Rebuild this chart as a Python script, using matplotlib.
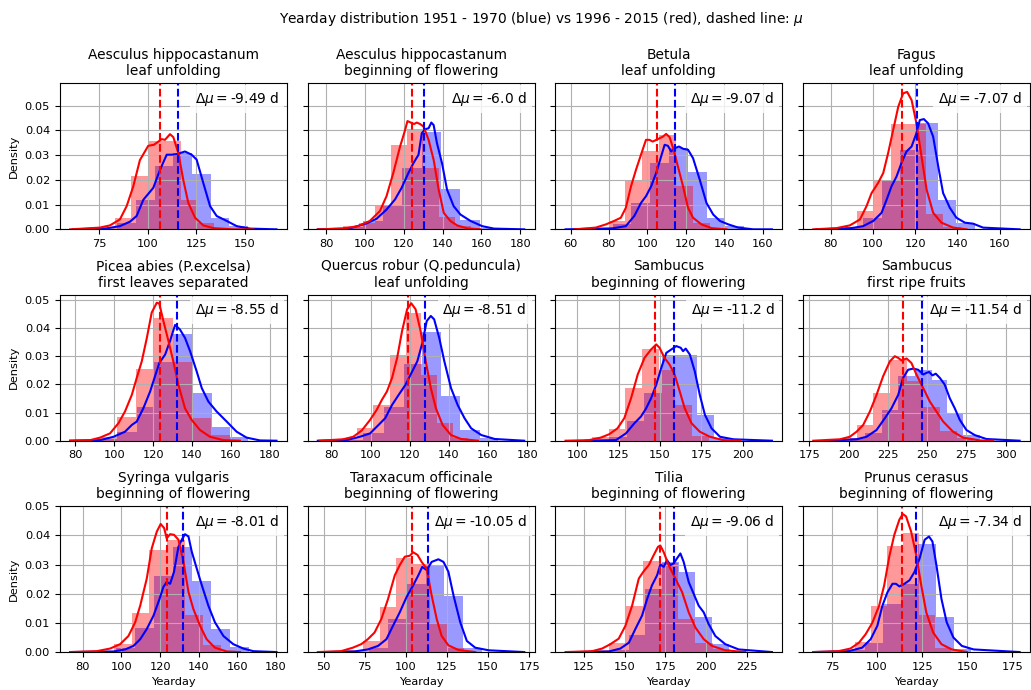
import matplotlib
matplotlib.use("Agg")
import matplotlib.pyplot as plt
import numpy as np

species = ["Aesculus hippocastanum", "Aesculus hippocastanum", "Betula", "Fagus",
           "Picea abies (P.excelsa)", "Quercus robur (Q.peduncula)", "Sambucus", "Sambucus",
           "Syringa vulgaris", "Taraxacum officinale", "Tilia", "Prunus cerasus"]
phases = ["leaf unfolding", "beginning of flowering", "leaf unfolding", "leaf unfolding",
          "first leaves separated", "leaf unfolding", "beginning of flowering", "first ripe fruits",
          "beginning of flowering", "beginning of flowering", "beginning of flowering",
          "beginning of flowering"]
delta_mu = ["-9.49", "-6.0", "-9.07", "-7.07", "-8.55", "-8.51", "-11.2", "-11.54",
            "-8.01", "-10.05", "-9.06", "-7.34"]

# means (dashed lines)
mean_red = [106.11, 124.5, 105.1, 113.9, 123.55, 119.3, 147.0, 234.9, 123.75, 103.6, 171.4, 114.0]
mean_blue = [115.6, 130.5, 114.17, 120.97, 132.1, 127.81, 158.2, 246.44, 131.76, 113.65, 180.46, 121.34]

xticks = [[75, 100, 125, 150], [80, 100, 120, 140, 160, 180], [60, 80, 100, 120, 140, 160],
          [80, 100, 120, 140, 160], [80, 100, 120, 140, 160, 180], [80, 100, 120, 140, 160, 180],
          [100, 125, 150, 175, 200], [175, 200, 225, 250, 275, 300], [80, 100, 120, 140, 160, 180],
          [50, 75, 100, 125, 150, 175], [125, 150, 175, 200, 225], [75, 100, 125, 150, 175]]
row_ymax = [0.059, 0.0518, 0.05]

# histogram bins 1996 - 2015 (red)
red_edges = [
    [74.5, 83, 91.5, 100, 108.5, 117, 125.5, 134, 142.5],
    [88.7, 97, 105.2, 113.4, 121.6, 129.9, 138.1, 146.4, 154.6],
    [71, 79.8, 88.6, 97.4, 106.2, 115, 123.8, 132.6, 141.4],
    [84.1, 92.3, 100.5, 108.7, 116.9, 125.1, 133.3, 141.5],
    [91.6, 101.3, 111, 120.7, 130.4, 140.1, 149.8, 159.5],
    [85.2, 92.9, 101.5, 109.8, 117.9, 126, 134.2, 142, 149.7],
    [108.8, 118.9, 129, 139.1, 149.2, 159.3, 169.4, 179.5],
    [194.5, 205.1, 215.7, 226.3, 236.9, 247.5, 258.1, 268.7, 279.3],
    [86.6, 95.9, 105.2, 114.5, 123.8, 133.1, 142.4, 151.7],
    [63.7, 73.9, 84.1, 94.3, 104.5, 114.7, 124.9, 135.1],
    [129.7, 140.3, 150.9, 161.5, 172.1, 182.7, 193.3, 203.9, 214.5],
    [78.8, 87.7, 96.6, 105.5, 114.4, 123.3, 132.2, 141.1],
]
red_heights = [
    [0.0006, 0.0044, 0.0217, 0.0358, 0.0358, 0.012, 0.0025, 0.0004],
    [0.0013, 0.0025, 0.010, 0.0342, 0.0406, 0.0248, 0.005, 0.0013],
    [0.0005, 0.0034, 0.0198, 0.0318, 0.0382, 0.0174, 0.0025, 0.0005],
    [0.0008, 0.0076, 0.0198, 0.0426, 0.0426, 0.0062, 0.0008],
    [0.0014, 0.0083, 0.0256, 0.0435, 0.028, 0.008, 0.002],
    [0.0011, 0.0044, 0.0127, 0.0306, 0.0455, 0.0232, 0.0062, 0.0011],
    [0.0014, 0.0042, 0.0187, 0.0324, 0.0252, 0.0127, 0.0018],
    [0.0008, 0.0054, 0.0169, 0.0288, 0.0213, 0.0121, 0.0035, 0.0008],
    [0.0005, 0.0027, 0.0133, 0.035, 0.0385, 0.0128, 0.0024],
    [0.0008, 0.0038, 0.0154, 0.0321, 0.0301, 0.0096, 0.0015],
    [0.0006, 0.003, 0.0159, 0.0312, 0.0304, 0.0115, 0.0032, 0.0009],
    [0.0005, 0.0035, 0.0159, 0.0364, 0.0408, 0.0128, 0.0015],
]

# histogram bins 1951 - 1970 (blue)
blue_edges = [
    [84.3, 93.9, 103.5, 113.1, 122.7, 132.3, 141.9, 151.5],
    [89, 99, 109.2, 119.2, 129.2, 139.2, 149.2, 159.2, 169.2],
    [81.9, 91.7, 101.5, 111.3, 121.1, 130.9, 140.7, 150.5],
    [86.6, 95.4, 104.2, 113, 121.8, 130.6, 139.4, 148.2],
    [91.9, 101.7, 111.6, 120.5, 130.4, 140.3, 150.1, 159.5, 168.9],
    [86.6, 96.4, 106.7, 117, 126.5, 135.9, 145.9, 155.7, 165.2],
    [119.2, 129.8, 140.4, 151, 161.6, 172.2, 182.8, 193.4],
    [200, 210.4, 221, 231.6, 242.2, 253.2, 262.9, 272.9, 283.5],
    [97.3, 107.1, 116.9, 126.7, 136.5, 146.3, 156.1, 165.9],
    [77.8, 89.2, 100.6, 112, 123.4, 134.8, 146.2],
    [142.4, 152.6, 162.8, 173, 183.2, 193.4, 203.6, 213.8],
    [83.5, 93.5, 103.3, 113.1, 122.9, 132.7, 142.5, 152.3],
]
blue_heights = [
    [0.0024, 0.0117, 0.0257, 0.031, 0.0225, 0.0047, 0.0013],
    [0.0008, 0.0034, 0.010, 0.0248, 0.0395, 0.0164, 0.0038, 0.0007],
    [0.002, 0.0107, 0.0268, 0.033, 0.0232, 0.0044, 0.0012],
    [0.0008, 0.0044, 0.0194, 0.0322, 0.0432, 0.0117, 0.0027],
    [0.0005, 0.003, 0.012, 0.028, 0.038, 0.017, 0.005, 0.0014],
    [0.0004, 0.0026, 0.0121, 0.0274, 0.0387, 0.0157, 0.0038, 0.0008],
    [0.0012, 0.0071, 0.0171, 0.0306, 0.0306, 0.0092, 0.0008],
    [0.0008, 0.0026, 0.011, 0.0229, 0.025, 0.0217, 0.01, 0.002],
    [0.0015, 0.0081, 0.0262, 0.036, 0.0243, 0.0078, 0.0017],
    [0.0015, 0.0115, 0.0234, 0.0298, 0.0192, 0.0015],
    [0.0008, 0.0058, 0.0217, 0.031, 0.0275, 0.0119, 0.0029],
    [0.0008, 0.0032, 0.0163, 0.0234, 0.037, 0.0121, 0.0009],
]

# kernel density curves
red_kde_x = [
    [60, 75.3, 80.5, 85.6, 89.1, 92.5, 95.9, 100.2, 103.1, 105.4, 107.1, 108.8, 111.4, 113.1, 115.7, 118.2, 120.8, 124.3, 128.5, 133.7, 144, 154.3],
    [75.7, 88.7, 96.4, 102.5, 107.7, 111.1, 114.6, 118.1, 120.7, 121.9, 123.6, 125.3, 126.7, 128.4, 130.2, 132.8, 135.4, 138, 140.6, 144, 147.5, 152.7, 159.6],
    [62, 73.1, 78.4, 82.7, 86.2, 88.8, 91.5, 94.1, 96.7, 99.3, 101.1, 102.8, 105.5, 108.1, 109.8, 111.6, 113.7, 115.9, 118.6, 121.2, 123.8, 128.2, 133.4, 141.3],
    [71.8, 82.8, 89.1, 93.9, 97, 99.4, 102.5, 104.9, 107.2, 109.6, 112, 114.3, 116.2, 118.3, 120.6, 123, 125.4, 128.5, 132.4, 138, 144.3],
    [77.4, 87.7, 92.8, 97.9, 102.2, 105.6, 109.1, 111.6, 114.2, 116.8, 119.3, 121.9, 123.2, 125.3, 127.9, 130.4, 133, 136.4, 139.8, 144.1, 149.2, 156.1, 164.6],
    [74, 86, 91.2, 95.5, 99.8, 103.2, 105.8, 108.4, 111, 113.6, 116.1, 118.7, 120.8, 123, 125.6, 128.2, 130.8, 133.4, 136.8, 141.1, 146.3, 154.9],
    [92.9, 107.1, 114.2, 119.3, 124.3, 128.4, 132.5, 136.5, 140.6, 144.6, 147.7, 149.7, 152.7, 155.8, 158.8, 161.9, 164.9, 169, 174, 180.1, 188.2, 198.4],
    [177.5, 194.5, 200.8, 205.1, 209.3, 213.6, 217.8, 222, 226.3, 229.4, 231.6, 233.7, 236.9, 240, 243.2, 247.5, 251.7, 255.9, 260.2, 266.5, 272.9, 283.5, 292],
    [73.4, 87.2, 94.1, 99.3, 103.6, 107.1, 109.7, 113.1, 115.7, 118.3, 120.3, 122.1, 123.4, 125.2, 127.2, 129.5, 132.1, 134.7, 137.2, 140.7, 144.1, 148.4, 154.5, 161.4],
    [46.5, 60.6, 67.8, 72.9, 76.9, 81, 85.1, 89.2, 93.3, 96.3, 99.4, 102.4, 104.5, 107.1, 109.6, 112.7, 115.7, 118.8, 121.8, 125.9, 132, 142.2],
    [113.8, 130.1, 136.2, 141.3, 146.4, 150.5, 154.6, 158.7, 161.7, 164.8, 167.9, 170.5, 171.9, 174, 177, 181.1, 185.2, 189.3, 193.4, 198.5, 203.6, 211.7, 224],
    [64.7, 78.7, 85.3, 90, 93.7, 97.4, 101.2, 104, 106.8, 109.6, 112.4, 114.3, 116.1, 118.9, 121.7, 124.5, 127.3, 131.1, 135.7, 141.4, 149.8],
]
red_kde_y = [
    [0, 0.0007, 0.0016, 0.004, 0.0094, 0.0174, 0.028, 0.0338, 0.0342, 0.0355, 0.0365, 0.0362, 0.0385, 0.0373, 0.0308, 0.0201, 0.0107, 0.0047, 0.0016, 0.0005, 0, 0],
    [0, 0.0003, 0.0013, 0.0034, 0.0074, 0.0134, 0.0228, 0.0335, 0.0402, 0.0438, 0.0432, 0.0426, 0.0432, 0.0426, 0.0416, 0.0362, 0.0281, 0.0161, 0.0067, 0.0034, 0.0016, 0.0004, 0],
    [0, 0.0007, 0.002, 0.0034, 0.0047, 0.0087, 0.0174, 0.0241, 0.0302, 0.0362, 0.0362, 0.0355, 0.0365, 0.0375, 0.0386, 0.0373, 0.0322, 0.0255, 0.0174, 0.0087, 0.0047, 0.002, 0.0005, 0],
    [0, 0.0005, 0.0016, 0.004, 0.0094, 0.0147, 0.0188, 0.0228, 0.0308, 0.0402, 0.0496, 0.055, 0.0556, 0.0523, 0.0429, 0.0295, 0.0161, 0.0067, 0.0027, 0.0007, 0],
    [0, 0.0002, 0.0011, 0.0026, 0.0062, 0.0104, 0.0163, 0.0223, 0.0282, 0.0365, 0.0455, 0.049, 0.0487, 0.0425, 0.0354, 0.0282, 0.0199, 0.0115, 0.0074, 0.0038, 0.0014, 0.0002, 0],
    [0, 0.0005, 0.0014, 0.0036, 0.0074, 0.011, 0.0145, 0.0175, 0.0223, 0.0294, 0.0389, 0.0467, 0.0488, 0.0467, 0.0389, 0.0282, 0.0187, 0.0115, 0.0056, 0.002, 0.0006, 0],
    [0, 0.0002, 0.0011, 0.0023, 0.0044, 0.008, 0.0151, 0.0235, 0.0294, 0.0324, 0.0342, 0.033, 0.0294, 0.027, 0.0235, 0.0175, 0.0115, 0.0062, 0.0032, 0.0014, 0.0002, 0],
    [0, 0.0005, 0.0014, 0.0032, 0.0056, 0.0104, 0.0163, 0.0229, 0.0282, 0.03, 0.0294, 0.0285, 0.0292, 0.0276, 0.0235, 0.0187, 0.0139, 0.0104, 0.0068, 0.0032, 0.0011, 0.0001, 0],
    [0, 0.0003, 0.0012, 0.0027, 0.0055, 0.0102, 0.0159, 0.0252, 0.0356, 0.0413, 0.0439, 0.0425, 0.039, 0.0404, 0.0402, 0.0385, 0.0309, 0.0206, 0.0148, 0.009, 0.0044, 0.0015, 0.0002, 0],
    [0, 0.0003, 0.0015, 0.0027, 0.0044, 0.0067, 0.0113, 0.0182, 0.0263, 0.0298, 0.0327, 0.033, 0.0342, 0.0333, 0.0309, 0.0286, 0.0194, 0.0113, 0.0055, 0.0023, 0.0007, 0],
    [0, 0.0003, 0.0012, 0.0027, 0.0046, 0.009, 0.0159, 0.0252, 0.0277, 0.0298, 0.0333, 0.0361, 0.0365, 0.0342, 0.0298, 0.0252, 0.0206, 0.0136, 0.0084, 0.0044, 0.0021, 0.0006, 0],
    [0, 0.0003, 0.0012, 0.0032, 0.0061, 0.01, 0.0159, 0.0229, 0.0327, 0.0402, 0.0454, 0.0473, 0.0465, 0.0413, 0.0333, 0.0229, 0.0136, 0.0067, 0.0027, 0.0009, 0],
]
blue_kde_x = [
    [61.6, 78.8, 85.6, 90.8, 94.2, 97.7, 102.8, 106.2, 109.7, 112.2, 114.8, 119.1, 122.5, 125.1, 128.5, 132, 135.4, 140.6, 145.7, 152.6, 166.2],
    [75.7, 92.1, 100.8, 106, 111.1, 115.5, 118.9, 122.4, 125, 127.6, 129.3, 131, 132.8, 134.2, 135.4, 137.1, 139.7, 142.3, 145.7, 149.2, 154.4, 160.4, 166.5, 182.1],
    [57.4, 81.9, 88.8, 93.2, 96.7, 99.3, 102, 104.6, 107.2, 109, 110.7, 112.4, 114.2, 116.5, 118.6, 121.2, 123.8, 127.3, 130.8, 134.3, 137.8, 142.2, 147.4, 155.3, 164.9],
    [73.4, 89.1, 95.4, 100.2, 104.1, 106.5, 108.8, 111.2, 113.5, 115.9, 118.3, 120.6, 122.2, 124.1, 126.1, 128.5, 130.9, 133.2, 136.4, 139.5, 143.5, 147.4, 152.1, 169.4],
    [77.4, 92.8, 99.7, 105.6, 109.1, 111.6, 115, 118.5, 121, 123.2, 126.2, 128.7, 131.3, 133.8, 136.4, 139, 142.4, 145, 148.4, 152.6, 157.8, 162.9, 168, 174.9, 183.4],
    [73.1, 87.7, 94.6, 99.8, 104.1, 107.5, 111, 114.4, 117.9, 121.3, 123.9, 126.5, 128.7, 130.8, 132.5, 135.1, 137.7, 141.1, 144.5, 148, 151.4, 156.6, 163.5, 178.5],
    [105.1, 123.3, 129.4, 134.5, 138.5, 141.6, 144.6, 147.7, 150.7, 153.8, 156.8, 159.8, 162.5, 163.9, 165.5, 168, 171, 174, 177.1, 181.1, 186.2, 194.3, 217.6],
    [188.1, 205.1, 211.4, 217.8, 223.1, 227.3, 231.6, 234.7, 237.9, 241.1, 244.3, 247.5, 249.6, 251.3, 253.4, 255.5, 258.1, 261.2, 264.4, 267.6, 270.8, 275, 280.3, 287.7, 308.9],
    [73.4, 95.9, 101.9, 106.2, 109.7, 113.1, 116.6, 119.7, 121.7, 123.4, 125.2, 127.2, 129.5, 131.2, 132.9, 134.7, 136.4, 139, 141.6, 145, 148.4, 152.8, 157.9, 163.1, 168.3, 180.3],
    [50, 68.8, 76.9, 83.1, 88.2, 92.2, 96.3, 100.4, 104.5, 107.6, 110, 112.7, 115.7, 119.8, 122.9, 125.9, 129, 133.1, 137.1, 142.2, 150.4, 172],
    [121.9, 140.3, 147.4, 152.6, 156.6, 160.7, 163.8, 166.8, 169.9, 171.9, 174, 176, 178.1, 180.1, 182.1, 184.2, 186.2, 189.3, 192.3, 195.4, 198.5, 201.5, 205.6, 211.7, 219.9, 240.3],
    [64.7, 84.3, 91.8, 96.5, 100.2, 103, 105.8, 108.6, 110.5, 112.4, 115.2, 118, 120.8, 123.6, 126.4, 128.8, 130.7, 132.9, 135.7, 138.6, 142.3, 147, 153.5, 179],
]
blue_kde_y = [
    [0, 0.0004, 0.0013, 0.0031, 0.0054, 0.012, 0.0168, 0.024, 0.0302, 0.0302, 0.0304, 0.0315, 0.0302, 0.0282, 0.0188, 0.0094, 0.0054, 0.0034, 0.0013, 0.0003, 0],
    [0, 0.0004, 0.0024, 0.0043, 0.008, 0.0121, 0.0168, 0.0228, 0.0268, 0.0302, 0.0389, 0.0405, 0.0409, 0.0432, 0.0422, 0.0349, 0.0268, 0.0161, 0.0094, 0.006, 0.0034, 0.0013, 0.0003, 0],
    [0, 0.0004, 0.0013, 0.0054, 0.0107, 0.0134, 0.0174, 0.0228, 0.0295, 0.0342, 0.0338, 0.0315, 0.0328, 0.0335, 0.0326, 0.0322, 0.0288, 0.0201, 0.0107, 0.006, 0.0034, 0.002, 0.0007, 0, 0],
    [0, 0.0004, 0.0013, 0.0034, 0.0067, 0.012, 0.0174, 0.0214, 0.0268, 0.0315, 0.0335, 0.0389, 0.0442, 0.0446, 0.0429, 0.0375, 0.0255, 0.0147, 0.0087, 0.0047, 0.0027, 0.0023, 0.0007, 0],
    [0, 0.0002, 0.0014, 0.0032, 0.0056, 0.0068, 0.0115, 0.0175, 0.0229, 0.0276, 0.0306, 0.0354, 0.0411, 0.0395, 0.0365, 0.0318, 0.0246, 0.0187, 0.0139, 0.0104, 0.0068, 0.0032, 0.0011, 0.0001, 0],
    [0, 0.0002, 0.0014, 0.0026, 0.0056, 0.008, 0.0127, 0.0163, 0.0199, 0.0246, 0.0282, 0.0348, 0.0425, 0.0443, 0.0431, 0.0365, 0.0282, 0.0187, 0.0127, 0.008, 0.0044, 0.002, 0.0006, 0],
    [0, 0.0002, 0.0026, 0.0062, 0.0086, 0.0115, 0.0151, 0.0199, 0.0258, 0.0312, 0.0324, 0.0336, 0.033, 0.0318, 0.0327, 0.0306, 0.0246, 0.0163, 0.0092, 0.0044, 0.0014, 0.0005, 0],
    [0, 0.0005, 0.0014, 0.0038, 0.008, 0.0115, 0.0163, 0.0223, 0.0252, 0.0256, 0.0252, 0.0235, 0.0241, 0.0244, 0.0232, 0.0238, 0.0223, 0.0199, 0.0151, 0.0115, 0.0074, 0.0038, 0.002, 0.0006, 0],
    [0, 0.0002, 0.0009, 0.0021, 0.0044, 0.0079, 0.0125, 0.0182, 0.0223, 0.024, 0.0234, 0.0275, 0.0361, 0.0385, 0.0404, 0.0396, 0.0344, 0.0286, 0.0229, 0.0159, 0.0102, 0.0055, 0.0027, 0.0012, 0.0003, 0],
    [0, 0.0002, 0.0009, 0.0021, 0.0044, 0.009, 0.0136, 0.0188, 0.0229, 0.0263, 0.0292, 0.0281, 0.0309, 0.0318, 0.0309, 0.0275, 0.0194, 0.0102, 0.0038, 0.0015, 0.0006, 0],
    [0, 0.0002, 0.0012, 0.0032, 0.0079, 0.0125, 0.0182, 0.0229, 0.0263, 0.03, 0.0292, 0.0315, 0.0298, 0.0304, 0.0321, 0.0338, 0.0309, 0.024, 0.02, 0.0159, 0.0136, 0.0096, 0.0055, 0.0027, 0.0009, 0],
    [0, 0.0003, 0.0015, 0.0044, 0.009, 0.0159, 0.0205, 0.0234, 0.0234, 0.0225, 0.0234, 0.0246, 0.0275, 0.0321, 0.0385, 0.0396, 0.0379, 0.0298, 0.0182, 0.0102, 0.005, 0.0021, 0.0009, 0],
]

plt.rcParams["font.size"] = 8.2

fig, axes = plt.subplots(3, 4, figsize=(10.31, 6.90), dpi=100, sharey="row")
fig.subplots_adjust(left=0.058, right=0.999, bottom=0.055, top=0.879, wspace=0.091, hspace=0.449)

for i, ax in enumerate(axes.flat):
    be = np.array(blue_edges[i])
    re = np.array(red_edges[i])
    ax.bar(be[:-1], blue_heights[i], width=np.diff(be), align="edge", color="blue", alpha=0.4, linewidth=0)
    ax.bar(re[:-1], red_heights[i], width=np.diff(re), align="edge", color="red", alpha=0.4, linewidth=0)
    ax.plot(blue_kde_x[i], blue_kde_y[i], color="blue", lw=1.5)
    ax.plot(red_kde_x[i], red_kde_y[i], color="red", lw=1.5)
    ax.axvline(mean_red[i], color="red", ls="--", lw=1.5)
    ax.axvline(mean_blue[i], color="blue", ls="--", lw=1.5)
    ax.set_xticks(xticks[i])
    ax.set_ylim(0, row_ymax[i // 4])
    ax.grid(True)
    ax.set_title(species[i] + "\n" + phases[i], fontsize=9.9)
    ax.text(0.966, 0.955, r"$\Delta\mu = $" + delta_mu[i] + " d", transform=ax.transAxes,
            ha="right", va="top", fontsize=9.9,
            bbox=dict(boxstyle="square,pad=0.35", facecolor="white", edgecolor="none", alpha=0.8))
    if i % 4 == 0:
        ax.set_ylabel("Density")
    if i >= 8:
        ax.set_xlabel("Yearday")

fig.suptitle("Yearday distribution 1951 - 1970 (blue) vs 1996 - 2015 (red), dashed line: $\\mu$",
             x=0.525, y=0.985, fontsize=9.9)

fig.savefig("out.png", dpi=100)
